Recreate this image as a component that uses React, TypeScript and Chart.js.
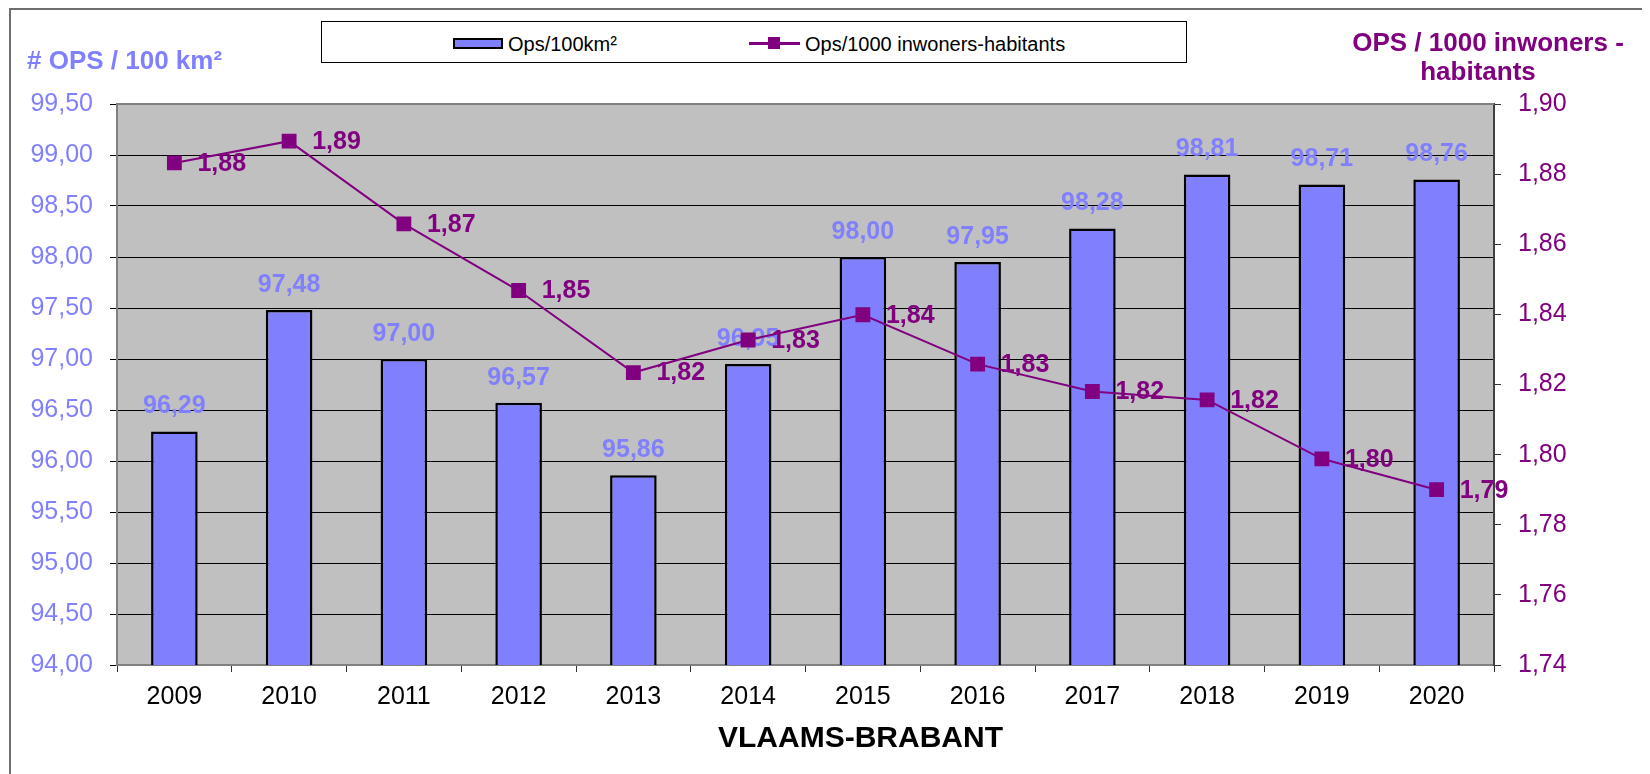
import React, { useEffect, useRef } from "react";
import { Chart, registerables } from "chart.js";

Chart.register(...registerables);

const years = ["2009", "2010", "2011", "2012", "2013", "2014", "2015", "2016", "2017", "2018", "2019", "2020"];
const opsPer100km2 = [96.29, 97.48, 97.0, 96.57, 95.86, 96.95, 98.0, 97.95, 98.28, 98.81, 98.71, 98.76];
const opsPer1000 = [1.8832, 1.8894, 1.8658, 1.8468, 1.8234, 1.8327, 1.8399, 1.8258, 1.818, 1.8156, 1.7988, 1.79];

const leftAxisRange = [94, 99.5];
const leftAxisStep = 0.5;
const rightAxisRange = [1.74, 1.9];
const rightAxisStep = 0.02;

const barLabel = "Ops/100km²";
const lineLabel = "Ops/1000 inwoners-habitants";
const leftTitle = "# OPS / 100 km²";
const rightTitle = ["OPS / 1000 inwoners -", "habitants"];
const xTitle = "VLAAMS-BRABANT";

const FONT = "'Liberation Sans', Arial, Helvetica, sans-serif";
const BAR_COLOR = "#8080ff";
const LINE_COLOR = "#800080";

const fmt = (v: number) => v.toFixed(2).replace(".", ",");

const plotPlugin = {
  id: "plotDecor",
  beforeDraw(chart: any) {
    const { ctx, chartArea: a } = chart;
    ctx.save();
    ctx.fillStyle = "#c0c0c0";
    ctx.fillRect(a.left, a.top, a.right - a.left, a.bottom - a.top);
    ctx.restore();
  },
  beforeDatasetsDraw(chart: any) {
    const { ctx, chartArea: a } = chart;
    ctx.save();
    ctx.strokeStyle = "#808080";
    ctx.lineWidth = 2;
    ctx.beginPath();
    ctx.moveTo(a.left, a.top);
    ctx.lineTo(a.right, a.top);
    ctx.stroke();
    ctx.restore();
  },
  afterDatasetDraw(chart: any, args: any) {
    const { ctx } = chart;
    const meta = args.meta;
    const ds = chart.data.datasets[args.index];
    ctx.save();
    if (meta.type === "bar") {
      ctx.font = `bold 25px ${FONT}`;
      ctx.fillStyle = BAR_COLOR;
      ctx.textAlign = "center";
      ctx.textBaseline = "middle";
      meta.data.forEach((el: any, i: number) => {
        ctx.fillText(fmt(ds.data[i]), el.x, el.y - 25);
      });
    } else if (meta.type === "line") {
      ctx.font = `bold 25px ${FONT}`;
      ctx.fillStyle = LINE_COLOR;
      ctx.textAlign = "left";
      ctx.textBaseline = "middle";
      meta.data.forEach((el: any, i: number) => {
        ctx.fillText(fmt(ds.data[i]), el.x + 23, el.y + 1);
      });
    }
    ctx.restore();
  },
};

export default function App() {
  const ref = useRef<HTMLCanvasElement | null>(null);

  useEffect(() => {
    if (!ref.current) return;
    const chart = new Chart(ref.current, {
      type: "bar",
      data: {
        labels: years,
        datasets: [
          {
            type: "bar",
            label: barLabel,
            data: opsPer100km2,
            yAxisID: "y",
            backgroundColor: BAR_COLOR,
            borderColor: "#000000",
            borderWidth: 2.5,
            borderSkipped: false,
            barPercentage: 0.406,
            categoryPercentage: 1,
            order: 1,
          } as any,
          {
            type: "line",
            label: lineLabel,
            data: opsPer1000,
            yAxisID: "y1",
            borderColor: LINE_COLOR,
            borderWidth: 2,
            pointStyle: "rect",
            pointRadius: 10.5,
            pointBackgroundColor: LINE_COLOR,
            pointBorderColor: LINE_COLOR,
            pointBorderWidth: 0,
            tension: 0,
            order: 0,
          } as any,
        ],
      },
      options: {
        animation: false,
        responsive: false,
        maintainAspectRatio: false,
        devicePixelRatio: 1,
        layout: { padding: { top: 96, left: 0, right: 0, bottom: 0 } },
        plugins: {
          legend: { display: false },
          tooltip: { enabled: false },
        },
        scales: {
          x: {
            type: "category",
            offset: true,
            grid: {
              offset: true,
              drawOnChartArea: false,
              drawTicks: true,
              tickLength: 7,
              tickColor: "#333333",
              tickWidth: 1,
            },
            border: { display: true, color: "#808080", width: 2 },
            ticks: {
              color: "#000000",
              font: { family: FONT, size: 25 },
              padding: 10,
              maxRotation: 0,
              autoSkip: false,
            },
            afterFit: (s: any) => {
              s.height = 109;
            },
          },
          y: {
            type: "linear",
            position: "left",
            min: leftAxisRange[0],
            max: leftAxisRange[1],
            grid: {
              color: "#000000",
              lineWidth: 1,
              drawOnChartArea: true,
              drawTicks: true,
              tickLength: 7,
              tickColor: "#000000",
            },
            border: { display: true, color: "#808080", width: 2 },
            ticks: {
              stepSize: leftAxisStep,
              color: BAR_COLOR,
              font: { family: FONT, size: 25 },
              padding: 17,
              callback: (v: any) => fmt(Number(v)),
            },
            afterFit: (s: any) => {
              s.width = 109;
            },
          },
          y1: {
            type: "linear",
            position: "right",
            min: rightAxisRange[0],
            max: rightAxisRange[1],
            grid: {
              drawOnChartArea: false,
              drawTicks: true,
              tickLength: 7,
              tickColor: "#333333",
            },
            border: { display: true, color: "#404040", width: 2 },
            ticks: {
              stepSize: rightAxisStep,
              color: LINE_COLOR,
              font: { family: FONT, size: 25 },
              padding: 17,
              callback: (v: any) => fmt(Number(v)),
            },
            afterFit: (s: any) => {
              s.width = 156;
            },
          },
        },
      } as any,
      plugins: [plotPlugin],
    });
    return () => chart.destroy();
  }, []);

  const textBase: React.CSSProperties = {
    position: "absolute",
    fontFamily: FONT,
    whiteSpace: "nowrap",
    lineHeight: 1,
    transform: "translateY(-50%)",
  };

  return (
    <div
      style={{
        position: "relative",
        width: 1642,
        height: 766,
        overflow: "hidden",
        boxSizing: "border-box",
      }}
    >
      <div
        style={{
          position: "absolute",
          left: 1,
          top: 0,
          width: 1660,
          height: 800,
          borderTop: "2px solid #6e6e6e",
          borderLeft: "2px solid #6e6e6e",
        }}
      />
      <canvas
        ref={ref}
        width={1642}
        height={766}
        style={{ position: "absolute", left: 0, top: 0, width: 1642, height: 766 }}
      />
      {/* Legend */}
      <div
        style={{
          position: "absolute",
          left: 313,
          top: 13,
          width: 866,
          height: 42,
          border: "1px solid #000",
          boxSizing: "border-box",
          background: "#fff",
        }}
      />
      <div
        style={{
          position: "absolute",
          left: 445,
          top: 30,
          width: 50,
          height: 11,
          background: BAR_COLOR,
          border: "2px solid #000",
          boxSizing: "border-box",
        }}
      />
      <div style={{ ...textBase, left: 500, top: 36, fontSize: 20, color: "#000" }}>{barLabel}</div>
      <div
        style={{
          position: "absolute",
          left: 741,
          top: 34,
          width: 51,
          height: 3,
          background: LINE_COLOR,
        }}
      />
      <div
        style={{
          position: "absolute",
          left: 760,
          top: 29,
          width: 12,
          height: 12,
          background: LINE_COLOR,
        }}
      />
      <div style={{ ...textBase, left: 797, top: 36, fontSize: 20, color: "#000" }}>{lineLabel}</div>
      {/* Axis titles */}
      <div style={{ ...textBase, left: 19, top: 52, fontSize: 26, fontWeight: "bold", color: BAR_COLOR }}>
        {leftTitle}
      </div>
      <div
        style={{
          ...textBase,
          left: 1480,
          top: 34,
          fontSize: 26,
          fontWeight: "bold",
          color: LINE_COLOR,
          transform: "translate(-50%, -50%)",
        }}
      >
        {rightTitle[0]}
      </div>
      <div
        style={{
          ...textBase,
          left: 1470,
          top: 63,
          fontSize: 26,
          fontWeight: "bold",
          color: LINE_COLOR,
          transform: "translate(-50%, -50%)",
        }}
      >
        {rightTitle[1]}
      </div>
      <div style={{ ...textBase, left: 710, top: 729, fontSize: 30, fontWeight: "bold", color: "#000" }}>{xTitle}</div>
    </div>
  );
}
